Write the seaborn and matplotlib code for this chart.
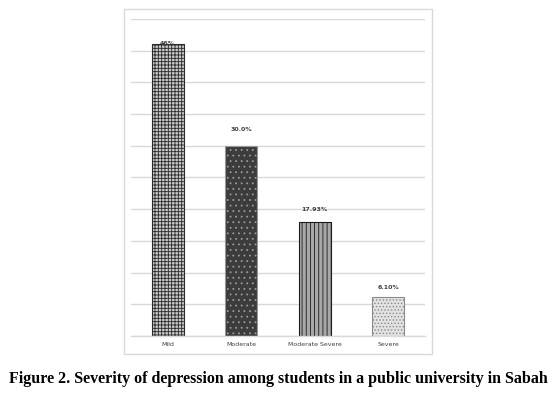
import matplotlib
matplotlib.use("Agg")
import matplotlib.pyplot as plt
import seaborn as sns
import pandas as pd
from matplotlib.patches import Rectangle

severity = ["Mild", "Moderate", "Moderate Severe", "Severe"]
percent = [46.0, 30.0, 17.93, 6.10]
value_labels = ["46%", "30.0%", "17.93%", "6.10%"]

# label gaps above each bar (style only)
label_gap = [0.2, 2.5, 2.1, 1.5]

faces = ["#c8c8c8", "#3c3c3c", "#a8a8a8", "#e2e2e2"]
hatch_cols = ["#2a2a2a", "#9a9a9a", "#1a1a1a", "#8a8a8a"]
hatches = ["+++++", "...", "||||", "....."]

df = pd.DataFrame({"severity": severity, "percent": percent})

sns.set_theme(style="white")
plt.rcParams["hatch.linewidth"] = 0.6

fig = plt.figure(figsize=(5.56, 3.94), dpi=100)
ax = fig.add_axes([0.2356, 0.147, 0.5288, 0.805])

sns.barplot(data=df, x="severity", y="percent", ax=ax, width=0.43,
            color="#cccccc", saturation=1)

for bar, fc, hc, h in zip(ax.patches, faces, hatch_cols, hatches):
    bar.set_facecolor(fc)
    bar.set_edgecolor(hc)
    bar.set_hatch(h)
    bar.set_linewidth(0.8)

for i, (v, lab, g) in enumerate(zip(percent, value_labels, label_gap)):
    ax.text(i, v + g, lab, ha="center", va="center", fontsize=4.5,
            fontweight="bold", color="#404040")

ax.set_ylim(0, 50)
ax.set_yticks(range(0, 51, 5))
ax.yaxis.grid(True, color="#d9d9d9", linewidth=1)
ax.set_axisbelow(True)
ax.set_yticklabels([])
ax.tick_params(axis="y", length=0)
ax.tick_params(axis="x", length=0, labelsize=4.5, labelcolor="#404040", pad=4)
ax.set_xlabel("")
ax.set_ylabel("")
for s in ["top", "right", "left"]:
    ax.spines[s].set_visible(False)
ax.spines["bottom"].set_color("#d9d9d9")
ax.spines["bottom"].set_linewidth(1)

# outer chart border
fig.patches.append(Rectangle((124 / 556, 1 - 354 / 394), 308 / 556, 345 / 394,
                             transform=fig.transFigure, fill=False,
                             edgecolor="#d9d9d9", linewidth=1))

fig.text(0.5, 1 - 379 / 394,
         "Figure 2. Severity of depression among students in a public university in Sabah",
         ha="center", va="center", fontsize=11.5, fontweight="bold",
         family="Liberation Serif", color="black")

fig.savefig("out.png", dpi=100)
